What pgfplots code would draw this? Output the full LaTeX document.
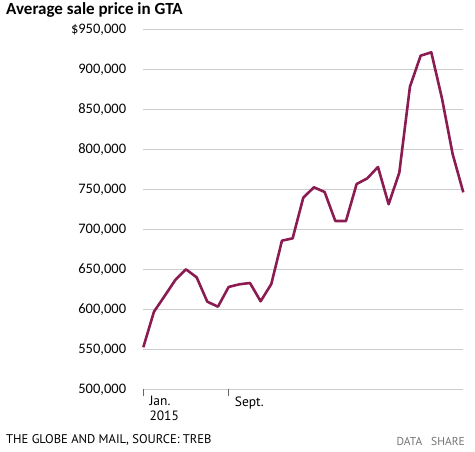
\documentclass[border=0pt]{standalone}
\usepackage{fontspec}
\setmainfont{Carlito}
\newfontfamily\ptsans{PT Sans}
\usepackage{pgfplots}
\pgfplotsset{compat=1.18}
\definecolor{linec}{HTML}{8B1C52}
\definecolor{gridc}{HTML}{CCCCCC}
\begin{document}
\begin{tikzpicture}[x=1pt,y=1pt]
\path[use as bounding box] (0,0) rectangle (475,452);
\node[anchor=base west, inner sep=0pt, font=\fontsize{17}{19}\selectfont\bfseries] at (6,437) {Average sale price in GTA};
\node[anchor=base west, inner sep=0pt, font=\ptsans\fontsize{12.6}{15}\selectfont] at (6,8.7) {THE GLOBE AND MAIL, SOURCE: TREB};
\node[anchor=base east, inner sep=0pt, font=\ptsans\fontsize{11.5}{13}\selectfont, text=black!55] at (465,6) {DATA\hspace{9pt}SHARE};
\begin{axis}[
  at={(143.3pt,62.7pt)}, anchor=south west,
  scale only axis, width=320pt, height=360pt,
  xmin=0, xmax=30, ymin=500000, ymax=950000,
  clip=false, scaled y ticks=false,
  axis line style={draw=none},
  ymajorgrids, grid style={gridc, line width=1pt},
  ytick={500000,550000,600000,650000,700000,750000,800000,850000,900000,950000},
  yticklabels={{500,000},{550,000},{600,000},{650,000},{700,000},{750,000},{800,000},{850,000},{900,000},{\$950,000}},
  yticklabel style={anchor=east, inner sep=0pt, xshift=-10pt, text height=9pt, text depth=0pt, font=\fontsize{14.5}{16}\selectfont},
  ytick style={draw=none},
  xtick={0,8}, xticklabels={{Jan.\\2015},{Sept.}},
  xtick pos=bottom, tick align=outside, major tick length=7pt,
  xtick style={draw=black!60, line width=1.2pt},
  xticklabel style={anchor=north west, inner sep=0pt, align=left, xshift=6pt, font=\ptsans\fontsize{13.5}{14.5}\selectfont},
]
\addplot[linec, line width=2.6pt, line join=round] coordinates {
(0,552500) (1,597000) (2,616600) (3,636600) (4,650000) (5,640000)
(6,609500) (7,603300) (8,627900) (9,631200) (10,632900) (11,610000)
(12,631600) (13,685800) (14,688700) (15,739600) (16,752500) (17,746600)
(18,710400) (19,710400) (20,756600) (21,763700) (22,777900) (23,731300)
(24,770800) (25,878300) (26,917000) (27,921200) (28,863700) (29,794100)
(30,746200)
};
\end{axis}
\end{tikzpicture}
\end{document}
